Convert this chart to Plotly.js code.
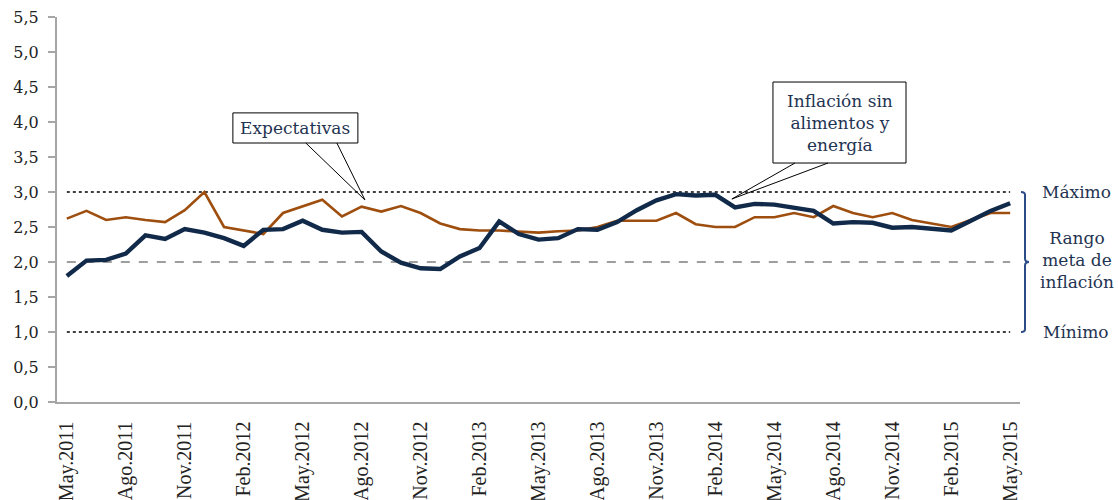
<!DOCTYPE html>
<html>
<head>
<meta charset="utf-8">
<script src="https://cdn.plot.ly/plotly-3.0.1.min.js"></script>
<style>
  html, body { margin: 0; padding: 0; background: #ffffff; }
  #chart { width: 1118px; height: 500px; }
</style>
</head>
<body>
<div id="chart"></div>
<script>
// ---------- data ----------
const months = ["May.2011","Jun.2011","Jul.2011","Ago.2011","Sep.2011","Oct.2011","Nov.2011","Dic.2011",
  "Ene.2012","Feb.2012","Mar.2012","Abr.2012","May.2012","Jun.2012","Jul.2012","Ago.2012","Sep.2012","Oct.2012","Nov.2012","Dic.2012",
  "Ene.2013","Feb.2013","Mar.2013","Abr.2013","May.2013","Jun.2013","Jul.2013","Ago.2013","Sep.2013","Oct.2013","Nov.2013","Dic.2013",
  "Ene.2014","Feb.2014","Mar.2014","Abr.2014","May.2014","Jun.2014","Jul.2014","Ago.2014","Sep.2014","Oct.2014","Nov.2014","Dic.2014",
  "Ene.2015","Feb.2015","Mar.2015","Abr.2015","May.2015"];

const tickLabels = ["May.2011","Ago.2011","Nov.2011","Feb.2012","May.2012","Ago.2012","Nov.2012","Feb.2013",
  "May.2013","Ago.2013","Nov.2013","Feb.2014","May.2014","Ago.2014","Nov.2014","Feb.2015","May.2015"];

const expectativas = [2.62,2.73,2.60,2.64,2.60,2.57,2.74,3.00,
  2.50,2.45,2.40,2.70,2.79,2.89,2.65,2.79,2.72,2.80,2.70,2.55,
  2.47,2.45,2.45,2.44,2.42,2.44,2.45,2.50,2.59,2.59,2.59,2.70,
  2.54,2.50,2.50,2.64,2.64,2.70,2.64,2.80,2.70,2.64,2.70,2.60,
  2.55,2.50,2.60,2.70,2.70];

const inflacionSAE = [1.80,2.02,2.03,2.12,2.38,2.33,2.47,2.42,
  2.34,2.23,2.46,2.47,2.59,2.46,2.42,2.43,2.15,1.99,1.91,1.90,
  2.08,2.20,2.58,2.40,2.32,2.34,2.47,2.46,2.57,2.74,2.88,2.97,
  2.95,2.96,2.78,2.83,2.82,2.78,2.73,2.55,2.57,2.56,2.49,2.50,
  2.48,2.45,2.59,2.73,2.84];

const yTicks = [0,0.5,1,1.5,2,2.5,3,3.5,4,4.5,5,5.5];
const rangoMax = 3.0;
const metaInflacion = 2.0;
const rangoMin = 1.0;

// ---------- styles ----------
const NAVY = '#112A4A';
const ORANGE = '#9E4E0E';
const TEXT = '#1F3452';
const AXIS = '#A6A6A6';
const BRACE = '#2B4C86';
const serif = 'DejaVu Serif, serif';

const n = months.length;
const boundaryTicks = [];
for (let i = 0; i < n - 1; i += 3) boundaryTicks.push(i - 0.5);

const first = months[0], last = months[n - 1];

const traces = [
  {x: [first, last], y: [rangoMax, rangoMax], mode: 'lines', hoverinfo: 'skip',
   line: {color: '#000000', width: 1.5, dash: 'dot'}, showlegend: false},
  {x: [first, last], y: [metaInflacion, metaInflacion], mode: 'lines', hoverinfo: 'skip',
   line: {color: '#7F7F7F', width: 1.5, dash: 'dash'}, showlegend: false},
  {x: [first, last], y: [rangoMin, rangoMin], mode: 'lines', hoverinfo: 'skip',
   line: {color: '#000000', width: 1.5, dash: 'dot'}, showlegend: false},
  {x: months, y: expectativas, mode: 'lines', name: 'Expectativas',
   line: {color: ORANGE, width: 2.6}, showlegend: false},
  {x: months, y: inflacionSAE, mode: 'lines', name: 'Inflación sin alimentos y energía',
   line: {color: NAVY, width: 4.4}, showlegend: false}
];

// brace path: x in pixels relative to the right edge of the plot, y in data units
const bTop = rangoMax, bMid = metaInflacion, bBot = rangoMin;
const bracePath =
  `M 1,${bTop} Q 5,${bTop} 5,${bTop - 0.04} L 5,${bMid + 0.05} Q 5,${bMid} 9,${bMid} ` +
  `Q 5,${bMid} 5,${bMid - 0.05} L 5,${bBot + 0.04} Q 5,${bBot} 1,${bBot}`;

const layout = {
  width: 1118, height: 500,
  margin: {l: 57, r: 98, t: 17, b: 98, pad: 0},
  paper_bgcolor: '#ffffff', plot_bgcolor: '#ffffff',
  separators: ',.',
  showlegend: false,
  xaxis: {
    type: 'category', categoryorder: 'array', categoryarray: months,
    range: [-0.5, n - 0.5],
    tickmode: 'array', tickvals: tickLabels, ticktext: tickLabels,
    ticks: '', tickangle: -90, ticklabelstandoff: 10,
    tickfont: {family: 'Liberation Serif, serif', size: 20, color: '#222222'},
    showline: true, linecolor: AXIS, linewidth: 1.5,
    showgrid: false, zeroline: false, fixedrange: true
  },
  xaxis2: {
    overlaying: 'x', anchor: 'y', side: 'bottom',
    range: [-0.5, n - 0.5],
    tickmode: 'array', tickvals: boundaryTicks,
    ticks: 'outside', ticklen: 6, tickcolor: AXIS, tickwidth: 1.5,
    showticklabels: false, showline: false, showgrid: false, zeroline: false
  },
  yaxis: {
    range: [0, 5.5],
    tickmode: 'array', tickvals: yTicks, tickformat: '.1f',
    ticks: 'outside', ticklen: 7, tickcolor: AXIS, tickwidth: 1.5,
    ticklabelstandoff: 6,
    tickfont: {family: serif, size: 16, color: '#222222'},
    showline: true, linecolor: AXIS, linewidth: 2,
    showgrid: false, zeroline: false, fixedrange: true
  },
  shapes: [
    // Expectativas callout
    {type: 'rect', xref: 'x', yref: 'y', x0: 8.45, x1: 14.81, y0: 3.70, y1: 4.13,
     line: {color: '#000000', width: 1}, fillcolor: '#ffffff'},
    {type: 'path', xref: 'x', yref: 'y', path: 'M 12.16,3.70 L 15.17,2.886 L 13.74,3.70',
     line: {color: '#000000', width: 1}},
    // Inflación sin alimentos y energía callout
    {type: 'rect', xref: 'x', yref: 'y', x0: 35.93, x1: 42.70, y0: 3.414, y1: 4.571,
     line: {color: '#000000', width: 1}, fillcolor: '#ffffff'},
    {type: 'path', xref: 'x', yref: 'y', path: 'M 37.05,3.414 L 33.84,2.90 L 38.73,3.414',
     line: {color: '#000000', width: 1}},
    // brace on the right
    {type: 'path', xref: 'paper', yref: 'y', xsizemode: 'pixel', xanchor: 1,
     path: bracePath, line: {color: BRACE, width: 2}}
  ],
  annotations: [
    {xref: 'x', yref: 'y', x: 11.63, y: 3.91, text: 'Expectativas', showarrow: false,
     xanchor: 'center', yanchor: 'middle',
     font: {family: serif, size: 17, color: TEXT}},
    {xref: 'x', yref: 'y', x: 39.32, y: 3.99, text: 'Inflación sin<br>alimentos y<br>energía',
     showarrow: false, align: 'center', xanchor: 'center', yanchor: 'middle',
     font: {family: serif, size: 17, color: TEXT}},
    {xref: 'paper', yref: 'y', x: 1, xshift: 56, y: rangoMax, text: 'Máximo', showarrow: false,
     xanchor: 'center', yanchor: 'middle',
     font: {family: serif, size: 17, color: TEXT}},
    {xref: 'paper', yref: 'y', x: 1, xshift: 57, y: metaInflacion, yshift: 2,
     text: 'Rango<br>meta de<br>inflación', showarrow: false, align: 'center',
     xanchor: 'center', yanchor: 'middle',
     font: {family: serif, size: 17, color: TEXT}},
    {xref: 'paper', yref: 'y', x: 1, xshift: 56, y: rangoMin, text: 'Mínimo', showarrow: false,
     xanchor: 'center', yanchor: 'middle',
     font: {family: serif, size: 17, color: TEXT}}
  ]
};

Plotly.newPlot('chart', traces, layout, {displayModeBar: false, staticPlot: true});
</script>
</body>
</html>
